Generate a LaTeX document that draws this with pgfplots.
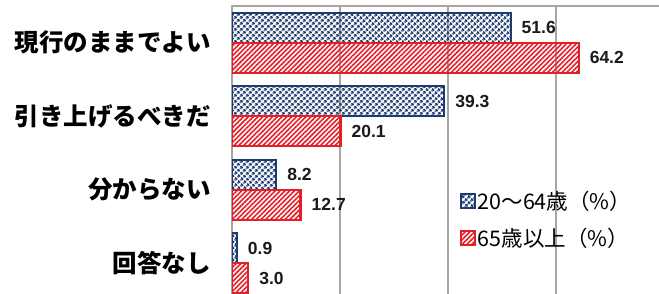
\documentclass[border=0pt]{standalone}
\usepackage{pgfplots}
\pgfplotsset{compat=1.18}
\usetikzlibrary{patterns.meta}
\usepackage{fontspec}
\setmainfont{Liberation Sans}
\newfontfamily\jp{Noto Sans CJK JP}
\definecolor{navy}{HTML}{1F3A6E}
\definecolor{bred}{HTML}{E3202A}
\definecolor{gridgray}{HTML}{A6A6A6}
\definecolor{txt}{HTML}{1A1A1A}
\begin{document}
\begin{tikzpicture}
\useasboundingbox (0,0) rectangle (659pt,293pt);
\begin{axis}[
  at={(232pt,-7pt)}, anchor=south west,
  scale only axis, width=432pt, height=294pt,
  xbar, xmin=0, xmax=80, ymin=-0.5, ymax=3.5,
  y dir=reverse,
  bar width=0.408,
  axis line style={gridgray, line width=1.2pt},
  xtick={0,20,40,60,80}, xticklabels={},
  major tick length=0pt,
  xmajorgrids, grid style={gridgray, line width=1.2pt},
  ytick={0,1,2,3},
  yticklabels={現行のままでよい,引き上げるべきだ,分からない,回答なし},
  yticklabel style={font=\jp\bfseries\fontsize{24.5}{25}\selectfont, inner sep=0pt, xshift=-21pt, text=black},
  point meta=x,
  /pgf/number format/assume math mode=true,
  /pgf/number format/fixed, /pgf/number format/fixed zerofill, /pgf/number format/precision=1,
  nodes near coords,
  nodes near coords style={anchor=west, inner sep=0pt, xshift=10pt, font=\bfseries\fontsize{17.5}{17.5}\selectfont, text=txt},
  legend style={at={(0.528,0.378)}, anchor=north west, draw=none, fill=none, inner sep=0pt,
    font=\jp\fontsize{21.5}{21.5}\selectfont, text=black, row sep=13pt,
    /tikz/every even column/.append style={column sep=6pt}},
  legend cell align=left,
  legend image code/.code={\draw[#1, line width=1.4pt] (0pt,-7pt) rectangle (14pt,7pt);},
]
\addplot[draw=navy, line width=2.2pt, bar shift=-0.204,
  pattern={Dots[distance=4pt, radius=1.65pt, angle=45]}, pattern color=navy]
  coordinates {(51.6,0) (39.3,1) (8.2,2) (0.9,3)};
\addlegendentry{20～64歳（\%）}
\addplot[draw=bred, line width=2.2pt, bar shift=0.204,
  pattern={Lines[distance=3.4pt, angle=45, line width=1.6pt]}, pattern color=bred]
  coordinates {(64.2,0) (20.1,1) (12.7,2) (3.0,3)};
\addlegendentry{65歳以上（\%）}
\end{axis}
\end{tikzpicture}
\end{document}
